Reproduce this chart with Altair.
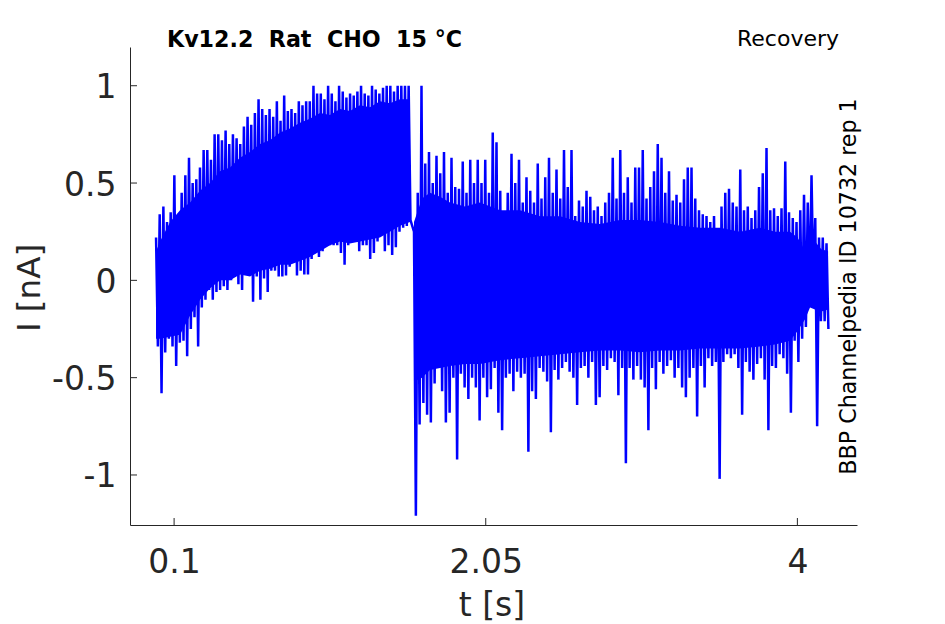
import altair as alt
import numpy as np
import pandas as pd

# ---------------- text ----------------
TITLE = "Kv12.2\u00a0 Rat\u00a0 CHO\u00a0 15 °C"
PROTOCOL = "Recovery"
SOURCE = "BBP Channelpedia ID 10732 rep 1"
X_TITLE = "t [s]"
Y_TITLE = "I [nA]"
X_TICKS = [0.1, 2.05, 4]
Y_TICKS = [-1, -0.5, 0, 0.5, 1]

# ---------------- trace data ----------------
# segment 1 (before the step) : time span and upper / lower excursions
SEG1_T = (-0.013, 1.579)
SEG1_HI = [0.22, 0.34, 0.38, 0.30, 0.35, 0.54, 0.33, 0.45, 0.54, 0.63,
           0.50, 0.52, 0.58, 0.67, 0.67, 0.62, 0.75, 0.75, 0.72, 0.77,
           0.70, 0.75, 0.73, 0.70, 0.79, 0.84, 0.80, 0.86, 0.93, 0.88,
           0.85, 0.88, 0.84, 0.92, 0.82, 0.95, 0.87, 0.88, 0.86, 0.92,
           0.90, 0.92, 0.92, 1.00, 0.96, 0.96, 0.93, 1.00, 0.96, 0.92,
           1.00, 0.97, 0.94, 0.96, 0.95, 0.97, 1.00, 0.96, 0.95, 1.00,
           0.98, 0.96, 0.99, 1.00, 1.00, 0.97, 1.00, 1.00, 1.00, 1.00]
SEG1_LO = [-0.34, -0.58, -0.37, -0.30, -0.34, -0.44, -0.32, -0.31, -0.39, -0.25,
           -0.19, -0.34, -0.14, -0.10, -0.05, -0.10, -0.06, -0.05, -0.03, -0.05,
           0.00, 0.035, -0.02, -0.05, 0.03, 0.07, -0.11, 0.02, -0.10, 0.01,
           -0.06, 0.05, 0.05, 0.02, 0.02, 0.025, 0.07, 0.09, 0.025, 0.05,
           0.03, 0.03, 0.11, 0.14, 0.12, 0.15, 0.21, 0.18, 0.18, 0.18,
           0.14, 0.08, 0.18, 0.29, 0.20, 0.15, 0.18, 0.18, 0.11, 0.14,
           0.20, 0.24, 0.15, 0.18, 0.13, 0.17, 0.25, 0.27, 0.28, 0.31]

# segment 2 (after the step)
SEG2_T = (1.601, 4.194)
SEG2_HI = [0.25, 0.45, 1.00, 0.60, 0.66, 0.50, 0.64, 0.55, 0.66, 0.45,
           0.63, 0.48, 0.47, 0.61, 0.45, 0.62, 0.50, 0.62, 0.50, 0.62,
           0.45, 0.76, 0.71, 0.46, 0.34, 0.45, 0.65, 0.50, 0.62, 0.40,
           0.53, 0.46, 0.40, 0.60, 0.42, 0.53, 0.63, 0.45, 0.57, 0.42,
           0.67, 0.48, 0.67, 0.33, 0.41, 0.38, 0.46, 0.43, 0.36, 0.38,
           0.33, 0.40, 0.45, 0.63, 0.42, 0.67, 0.45, 0.53, 0.40, 0.58,
           0.58, 0.67, 0.42, 0.48, 0.56, 0.70, 0.63, 0.45, 0.56, 0.41,
           0.44, 0.40, 0.52, 0.58, 0.58, 0.42, 0.36, 0.34, 0.33, 0.30,
           0.33, 0.24, 0.38, 0.45, 0.47, 0.40, 0.38, 0.57, 0.36, 0.38,
           0.32, 0.36, 0.48, 0.55, 0.68, 0.36, 0.37, 0.33, 0.37, 0.61,
           0.35, 0.32, 0.30, 0.36, 0.44, 0.40, 0.54, 0.32, 0.22, 0.22,
           0.19]
SEG2_LO = [-1.21, -0.74, -0.63, -0.69, -0.73, -0.53, -0.45, -0.57, -0.73, -0.68,
           -0.50, -0.92, -0.48, -0.55, -0.61, -0.50, -0.55, -0.72, -0.50, -0.60,
           -0.56, -0.45, -0.68, -0.77, -0.50, -0.48, -0.57, -0.47, -0.50, -0.48,
           -0.88, -0.57, -0.61, -0.45, -0.47, -0.52, -0.78, -0.46, -0.51, -0.45,
           -0.42, -0.47, -0.50, -0.64, -0.45, -0.44, -0.50, -0.42, -0.64, -0.60,
           -0.44, -0.46, -0.40, -0.42, -0.59, -0.45, -0.94, -0.45, -0.51, -0.44,
           -0.51, -0.55, -0.77, -0.45, -0.56, -0.42, -0.48, -0.44, -0.41, -0.50,
           -0.45, -0.55, -0.60, -0.50, -0.45, -0.70, -0.44, -0.55, -0.40, -0.44,
           -0.42, -1.02, -0.42, -0.38, -0.40, -0.38, -0.45, -0.69, -0.42, -0.47,
           -0.51, -0.43, -0.40, -0.51, -0.77, -0.44, -0.45, -0.38, -0.40, -0.48,
           -0.68, -0.31, -0.42, -0.30, -0.24, -0.10, -0.03, -0.75, -0.21, -0.21,
           -0.25]

# dense core of the noise band (solid region)
BODY1_T = [-0.013, 0.012, 0.075, 0.137, 0.200, 0.262, 0.325, 0.387, 0.450,
           0.512, 0.575, 0.638, 0.700, 0.763, 0.825, 0.888, 0.950, 1.013,
           1.075, 1.138, 1.200, 1.263, 1.325, 1.388, 1.450, 1.514, 1.576]
BODY1_HI = [0.15, 0.20, 0.30, 0.36, 0.40, 0.46, 0.50, 0.56, 0.58,
            0.63, 0.66, 0.70, 0.72, 0.76, 0.78, 0.81, 0.83, 0.86,
            0.85, 0.88, 0.87, 0.90, 0.89, 0.92, 0.91, 0.93, 0.93]
BODY1_LO = [-0.30, -0.30, -0.29, -0.28, -0.18, -0.10, -0.04, 0.00, 0.00,
            0.03, 0.02, 0.05, 0.06, 0.08, 0.08, 0.10, 0.12, 0.15,
            0.18, 0.20, 0.19, 0.20, 0.21, 0.22, 0.25, 0.28, 0.30]
BODY2_T = [1.601, 1.651, 1.701, 1.764, 1.826, 1.920, 2.014, 2.139, 2.264,
           2.390, 2.515, 2.640, 2.765, 2.890, 3.015, 3.140, 3.266, 3.391,
           3.516, 3.641, 3.766, 3.860, 3.954, 4.001, 4.048, 4.079, 4.110,
           4.150, 4.192]
BODY2_HI = [0.30, 0.42, 0.45, 0.43, 0.40, 0.38, 0.40, 0.36, 0.36,
            0.33, 0.33, 0.30, 0.29, 0.31, 0.31, 0.30, 0.28, 0.27,
            0.27, 0.25, 0.27, 0.25, 0.25, 0.22, 0.15, 0.17, 0.20,
            0.16, 0.15]
BODY2_LO = [-0.52, -0.50, -0.46, -0.45, -0.44, -0.43, -0.43, -0.41, -0.40,
            -0.39, -0.38, -0.37, -0.36, -0.36, -0.37, -0.36, -0.36, -0.35,
            -0.35, -0.35, -0.34, -0.33, -0.31, -0.26, -0.20, -0.14, -0.15,
            -0.16, -0.15]

# ---------------- tables ----------------
def zigzag(hi, lo, span):
    vals = []
    for h, l in zip(hi, lo):
        vals.extend([h, l])
    t = np.linspace(span[0], span[1], len(vals))
    return pd.DataFrame({"t": t, "I": vals})

trace = pd.concat([zigzag(SEG1_HI, SEG1_LO, SEG1_T),
                   zigzag(SEG2_HI, SEG2_LO, SEG2_T)], ignore_index=True)

body = pd.concat([
    pd.DataFrame({"t": BODY1_T, "hi": BODY1_HI, "lo": BODY1_LO, "seg": 1}),
    pd.DataFrame({"t": BODY2_T, "hi": BODY2_HI, "lo": BODY2_LO, "seg": 2}),
], ignore_index=True)

xticks_df = pd.DataFrame({"tick": X_TICKS})
yticks_df = pd.DataFrame({"tick": Y_TICKS})

# ---------------- style ----------------
FONT = "DejaVu Sans"
AX = "#262626"
BLUE = "#0000FF"
W, H = 727, 478

xscale = alt.Scale(domain=[-0.176, 4.373], nice=False, zero=False)
yscale = alt.Scale(domain=[-1.257, 1.199], nice=False, zero=False)

xaxis = alt.Axis(values=X_TICKS, labelExpr="'' + datum.value", ticks=False, tickSize=0,
                 grid=False, domainColor=AX, domainWidth=1,
                 labelFont=FONT, labelFontSize=33, labelColor=AX,
                 labelBaseline="alphabetic", labelPadding=47.7,
                 labelFlush=False, labelOverlap=False,
                 title=X_TITLE, titleFont=FONT, titleFontSize=33, titleFontWeight="normal",
                 titleColor=AX, titleX=361.5, titleY=90, titleBaseline="alphabetic",
                 titleAlign="center")
yaxis = alt.Axis(values=Y_TICKS, labelExpr="'' + datum.value", ticks=False, tickSize=0,
                 grid=False, domainColor=AX, domainWidth=1,
                 labelFont=FONT, labelFontSize=33, labelColor=AX,
                 labelBaseline="alphabetic", labelOffset=12, labelPadding=14,
                 labelFlush=False, labelOverlap=False,
                 title=Y_TITLE, titleFont=FONT, titleFontSize=32.5, titleFontWeight="normal",
                 titleColor=AX, titleX=-91, titleY=240.5, titleBaseline="alphabetic",
                 titleAlign="center", titleAngle=270)

band = alt.Chart(body).mark_area(color=BLUE, opacity=1).encode(
    x=alt.X("t:Q", scale=xscale, axis=xaxis),
    y=alt.Y("lo:Q", scale=yscale, axis=yaxis),
    y2="hi:Q",
    detail="seg:N",
)

line = alt.Chart(trace).mark_line(color=BLUE, strokeWidth=2.5).encode(
    x=alt.X("t:Q", scale=xscale),
    y=alt.Y("I:Q", scale=yscale),
)

xt = alt.Chart(xticks_df).mark_rule(color=AX, strokeWidth=1).encode(
    x=alt.X("tick:Q", scale=xscale),
    y=alt.value(H), y2=alt.value(H - 7),
)
yt = alt.Chart(yticks_df).mark_rule(color=AX, strokeWidth=1).encode(
    y=alt.Y("tick:Q", scale=yscale),
    x=alt.value(0), x2=alt.value(7),
)

def label(text, x, y, size, weight="normal", angle=0):
    return alt.Chart(pd.DataFrame({"label": [text]})).mark_text(
        font=FONT, fontSize=size, fontWeight=weight, color="#000000",
        align="center", baseline="alphabetic", angle=angle,
    ).encode(x=alt.value(x), y=alt.value(y), text="label:N")

title_t = label(TITLE, 184.5, 0.3, 22.2, weight="bold")
prot_t = label(PROTOCOL, 658, -1, 22)
src_t = label(SOURCE, 726, 239.5, 22.2, angle=270)

chart = alt.layer(band, line, xt, yt, title_t, prot_t, src_t).properties(
    width=W, height=H,
    padding={"left": 122, "top": 39, "right": 60, "bottom": 98},
    autosize=alt.AutoSizeParams(type="none"),
    background="white",
).configure_view(stroke=None)

chart.save("out.html", embed_options={"renderer": "svg", "actions": False})
